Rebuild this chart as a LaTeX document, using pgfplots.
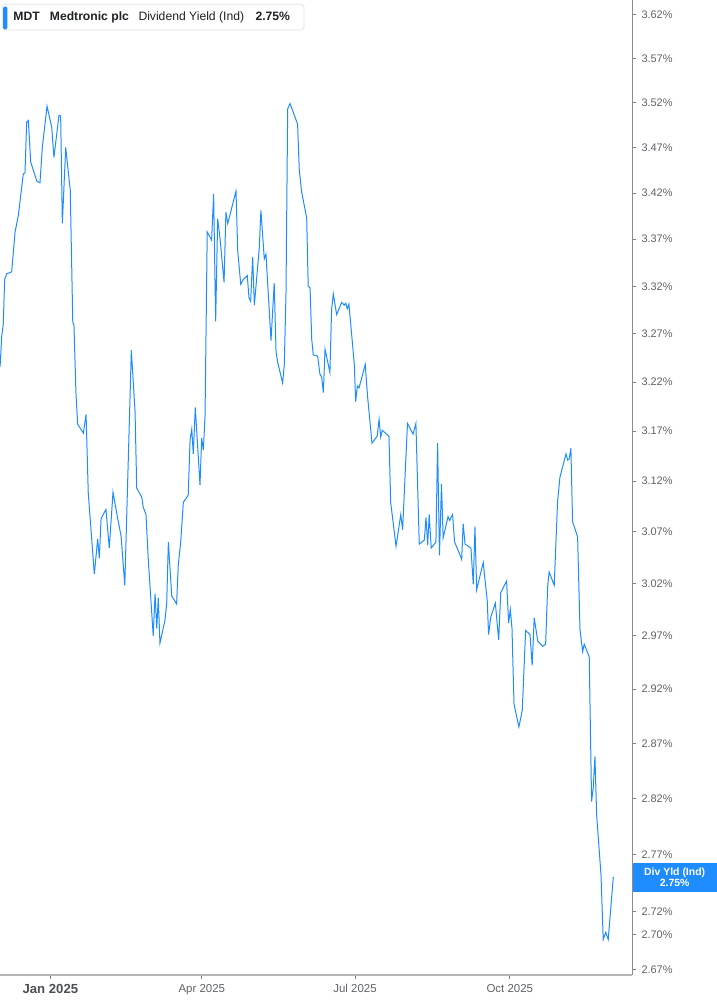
\documentclass[border=0pt]{standalone}
\usepackage{fontspec}
\setmainfont{Liberation Sans}
\usepackage{pgfplots}
\pgfplotsset{compat=1.18}
\definecolor{lineblue}{HTML}{1E8CFF}
\definecolor{axisgray}{HTML}{B5B5B5}
\definecolor{labelgray}{HTML}{5F6368}
\definecolor{textdark}{HTML}{1F2328}
\begin{document}
\begin{tikzpicture}[x=1bp,y=1bp]
\useasboundingbox (0,0) rectangle (717,1005);
\begin{axis}[
  at={(0bp,30bp)}, anchor=south west,
  width=632.3bp, height=975bp, scale only axis,
  xmin=-29.95, xmax=345.8,
  ymode=log, ymin=2.6657, ymax=3.6373,
  axis x line*=bottom, axis y line*=right,
  x axis line style={axisgray, line width=2bp, -},
  y axis line style={black!45, line width=0.9bp, -},
  tick align=outside,
  xtick={0,90,181,273},
  xticklabels={{\fontsize{13.2}{14}\selectfont\bfseries\color{textdark!80}Jan 2025},Apr 2025,Jul 2025,Oct 2025},
  ytick={2.67,2.70,2.72,2.77,2.82,2.87,2.92,2.97,3.02,3.07,3.12,3.17,3.22,3.27,3.32,3.37,3.42,3.47,3.52,3.57,3.62},
  yticklabels={2.67\%,2.70\%,2.72\%,2.77\%,2.82\%,2.87\%,2.92\%,2.97\%,3.02\%,3.07\%,3.12\%,3.17\%,3.22\%,3.27\%,3.32\%,3.37\%,3.42\%,3.47\%,3.52\%,3.57\%,3.62\%},
  xtick style={black!50, line width=0.8bp},
  ytick style={black!50, line width=0.8bp},
  major tick length=4bp,
  minor tick num=0,
  yticklabel style={font=\fontsize{11}{12}\selectfont, text=labelgray, anchor=west, inner sep=0pt, xshift=5bp},
  xticklabel style={font=\fontsize{11.5}{12}\selectfont, text=labelgray, anchor=north, inner sep=0pt, yshift=-5.5bp},
  clip=false,
]
\addplot[lineblue, line width=1bp] table {
x y
-29.9 3.236
-28.9 3.268
-28.0 3.280
-27.2 3.327
-26.0 3.333
-23.0 3.335
-21.0 3.378
-19.1 3.395
-16.1 3.441
-15.1 3.442
-14.1 3.498
-13.1 3.500
-11.7 3.454
-8.1 3.433
-6.2 3.431
-4.8 3.470
-2.0 3.516
0.8 3.492
2.1 3.459
5.1 3.506
6.1 3.505
7.1 3.387
9.1 3.470
11.8 3.423
13.3 3.282
14.0 3.279
15.2 3.208
16.2 3.177
19.6 3.168
21.2 3.187
22.5 3.108
26.1 3.029
28.1 3.063
29.1 3.044
30.1 3.083
33.0 3.092
35.0 3.054
37.2 3.109
40.0 3.083
42.0 3.066
44.2 3.018
48.1 3.253
50.3 3.190
51.3 3.113
54.3 3.104
55.2 3.094
56.8 3.087
58.2 3.042
61.1 2.970
62.2 3.010
63.2 2.977
64.1 3.006
65.1 2.963
68.1 2.985
69.1 3.000
70.1 3.060
72.1 3.008
75.0 3.000
76.0 3.038
77.4 3.059
79.0 3.099
81.9 3.106
83.0 3.161
84.0 3.172
84.9 3.147
86.1 3.194
88.9 3.116
89.9 3.163
90.9 3.151
91.9 3.186
93.2 3.378
95.8 3.369
97.0 3.419
98.2 3.283
99.4 3.392
100.8 3.371
103.2 3.324
104.3 3.399
105.4 3.387
110.3 3.422
111.3 3.358
113.1 3.322
114.6 3.327
117.0 3.331
118.0 3.308
119.0 3.304
120.2 3.351
121.2 3.300
124.1 3.360
125.1 3.401
127.1 3.349
128.1 3.354
131.1 3.263
133.0 3.323
134.1 3.251
135.1 3.240
138.0 3.219
139.0 3.238
140.0 3.312
141.0 3.513
142.4 3.519
146.9 3.496
147.9 3.445
149.3 3.421
152.3 3.393
153.2 3.320
154.3 3.318
155.3 3.264
156.2 3.248
158.8 3.247
160.2 3.228
161.2 3.225
162.2 3.209
163.2 3.254
166.1 3.230
167.1 3.295
168.1 3.312
170.1 3.290
173.1 3.303
174.6 3.300
175.5 3.302
176.4 3.296
177.4 3.301
179.6 3.258
180.6 3.238
181.4 3.200
182.4 3.216
183.4 3.214
187.1 3.238
188.5 3.205
191.1 3.158
194.2 3.165
195.3 3.182
196.3 3.164
197.2 3.171
201.2 3.165
202.2 3.099
205.4 3.056
208.2 3.087
209.3 3.072
212.2 3.178
215.5 3.167
217.2 3.178
219.2 3.058
222.2 3.062
223.2 3.084
224.2 3.057
225.1 3.087
226.3 3.054
229.1 3.060
230.1 3.158
231.2 3.047
232.4 3.117
233.4 3.064
236.3 3.085
237.3 3.081
239.0 3.087
240.2 3.060
243.0 3.049
244.4 3.043
245.3 3.078
246.4 3.058
249.9 3.054
251.3 3.019
252.3 3.075
253.3 3.014
257.2 3.040
259.6 3.003
260.4 2.971
261.6 2.987
264.4 3.001
266.4 2.966
267.6 3.011
271.1 3.022
272.3 2.982
273.3 2.995
274.3 2.977
275.5 2.906
278.4 2.885
280.4 2.900
282.4 2.975
285.0 2.971
286.3 2.942
287.5 2.987
289.6 2.965
292.5 2.960
294.3 2.962
295.5 3.017
296.4 3.031
299.4 3.018
301.4 3.100
302.8 3.124
304.2 3.133
306.4 3.147
307.4 3.141
308.3 3.142
309.3 3.153
310.3 3.080
313.3 3.065
314.7 2.976
316.3 2.955
317.2 2.962
320.2 2.950
321.6 2.817
322.6 2.830
323.6 2.858
324.6 2.805
327.2 2.752
328.5 2.696
330.0 2.702
331.5 2.696
334.5 2.750
};
\node[fill=lineblue, anchor=west, minimum width=84.3bp, minimum height=29.3bp, inner sep=0pt,
      text=white, font=\fontsize{10.5}{11}\selectfont\bfseries, align=center]
  at (axis cs:345.8,2.75) {Div Yld (Ind)\\2.75\%};
\end{axis}
\draw[rounded corners=3bp, draw=black!12, fill=white, line width=0.7bp] (2.3,975) rectangle (304,1000.7);
\fill[lineblue, rounded corners=1.2bp] (3.2,975.7) rectangle (7.3,998.3);
\begin{scope}[every node/.style={anchor=base west, inner sep=0pt, text=textdark, font=\fontsize{12.2}{13}\selectfont}]
\node at (13.3,984.3) {\bfseries MDT};
\node at (49.7,984.3) {\bfseries Medtronic plc};
\node at (138.3,984.3) {Dividend Yield (Ind)};
\node at (255.3,984.3) {\bfseries 2.75\%};
\end{scope}
\end{tikzpicture}
\end{document}
